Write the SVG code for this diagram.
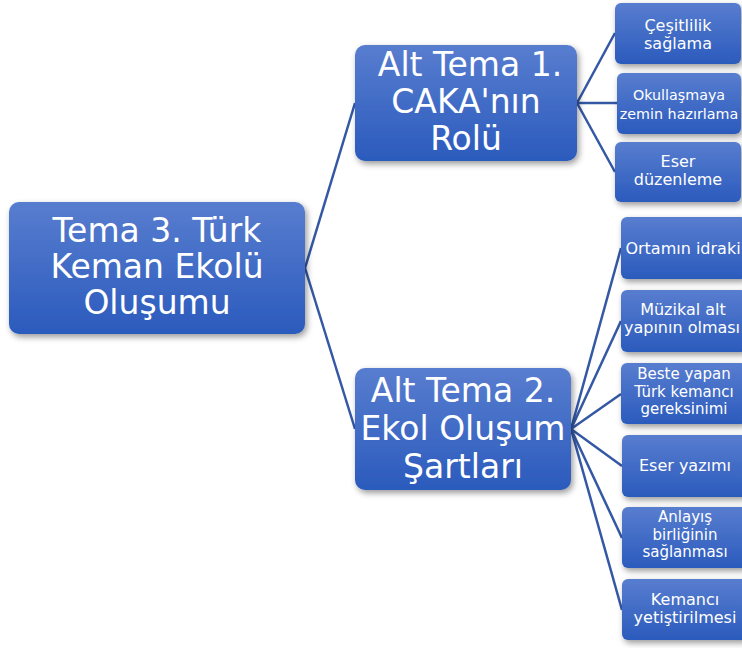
<svg xmlns="http://www.w3.org/2000/svg" width="742" height="648" viewBox="0 0 742 648">
<defs>
<linearGradient id="g" x1="0" y1="0" x2="0" y2="1">
<stop offset="0" stop-color="#587dcf"/>
<stop offset="1" stop-color="#2b5bbd"/>
</linearGradient>
<filter id="sh" x="-20%" y="-20%" width="140%" height="150%">
<feDropShadow dx="2" dy="3" stdDeviation="3" flood-color="#000" flood-opacity="0.4"/>
</filter>
</defs>
<style>
.box{fill:url(#g);filter:url(#sh);}
.big{font-family:"DejaVu Sans",sans-serif;font-size:33px;fill:#fff;text-anchor:middle;}
.sm{font-family:"DejaVu Sans",sans-serif;font-size:16px;fill:#fff;text-anchor:middle;}
.s3{font-family:"DejaVu Sans",sans-serif;font-size:15px;fill:#fff;text-anchor:middle;}
.xs{font-family:"DejaVu Sans",sans-serif;font-size:14.3px;fill:#fff;text-anchor:middle;}
.con line{stroke:#3458a4;stroke-width:2.5;}
</style>
<rect width="742" height="648" fill="#fff"/>
<g class="con">
<line x1="305" y1="268" x2="355" y2="103"/>
<line x1="305" y1="268" x2="355" y2="429"/>
<line x1="577" y1="103" x2="615" y2="33"/>
<line x1="577" y1="103" x2="617" y2="103"/>
<line x1="577" y1="103" x2="615" y2="172"/>
<line x1="571" y1="429" x2="621" y2="248"/>
<line x1="571" y1="429" x2="621" y2="321"/>
<line x1="571" y1="429" x2="621" y2="394"/>
<line x1="571" y1="429" x2="622" y2="466"/>
<line x1="571" y1="429" x2="622" y2="538"/>
<line x1="571" y1="429" x2="622" y2="610"/>
</g>
<g id="root">
<rect class="box" x="9" y="202" width="296" height="132" rx="10"/>
<text class="big" x="157" y="242">Tema 3. Türk</text>
<text class="big" x="157" y="278">Keman Ekolü</text>
<text class="big" x="157" y="314">Oluşumu</text>
</g>
<g id="alt1">
<rect class="box" x="355" y="45" width="222" height="116" rx="10"/>
<text class="big" x="470" y="76">Alt Tema 1.</text>
<text class="big" x="466" y="113">CAKA'nın</text>
<text class="big" x="466" y="150">Rolü</text>
</g>
<g id="alt2">
<rect class="box" x="355" y="368" width="216" height="122" rx="10"/>
<text class="big" x="463" y="402">Alt Tema 2.</text>
<text class="big" x="463" y="440">Ekol Oluşum</text>
<text class="big" x="463" y="478">Şartları</text>
</g>
<g id="n1">
<rect class="box" x="615" y="3" width="126" height="61" rx="6"/>
<text class="sm" x="678" y="31">Çeşitlilik</text>
<text class="sm" x="678" y="48.5">sağlama</text>
</g>
<g id="n2">
<rect class="box" x="617" y="73" width="124" height="61" rx="6"/>
<text class="xs" x="679" y="100">Okullaşmaya</text>
<text class="xs" x="679" y="119">zemin hazırlama</text>
</g>
<g id="n3">
<rect class="box" x="615" y="142" width="126" height="60" rx="6"/>
<text class="sm" x="678" y="167">Eser</text>
<text class="sm" x="678" y="185">düzenleme</text>
</g>
<g id="n4">
<rect class="box" x="621" y="217" width="126" height="62" rx="6"/>
<text class="sm" x="683" y="254">Ortamın idraki</text>
</g>
<g id="n5">
<rect class="box" x="621" y="290" width="126" height="62" rx="6"/>
<text class="sm" x="683" y="315">Müzikal alt</text>
<text class="sm" x="682" y="333">yapının olması</text>
</g>
<g id="n6">
<rect class="box" x="621" y="363" width="126" height="61" rx="6"/>
<text class="s3" x="684" y="379">Beste yapan</text>
<text class="s3" x="684" y="396.5">Türk kemancı</text>
<text class="s3" x="684" y="414">gereksinimi</text>
</g>
<g id="n7">
<rect class="box" x="622" y="435" width="126" height="62" rx="6"/>
<text class="sm" x="685" y="471">Eser yazımı</text>
</g>
<g id="n8">
<rect class="box" x="622" y="507" width="126" height="61" rx="6"/>
<text class="s3" x="685" y="522">Anlayış</text>
<text class="s3" x="685" y="539.5">birliğinin</text>
<text class="s3" x="685" y="557">sağlanması</text>
</g>
<g id="n9">
<rect class="box" x="622" y="579" width="126" height="61" rx="6"/>
<text class="sm" x="685" y="605">Kemancı</text>
<text class="sm" x="685" y="623">yetiştirilmesi</text>
</g>
</svg>
